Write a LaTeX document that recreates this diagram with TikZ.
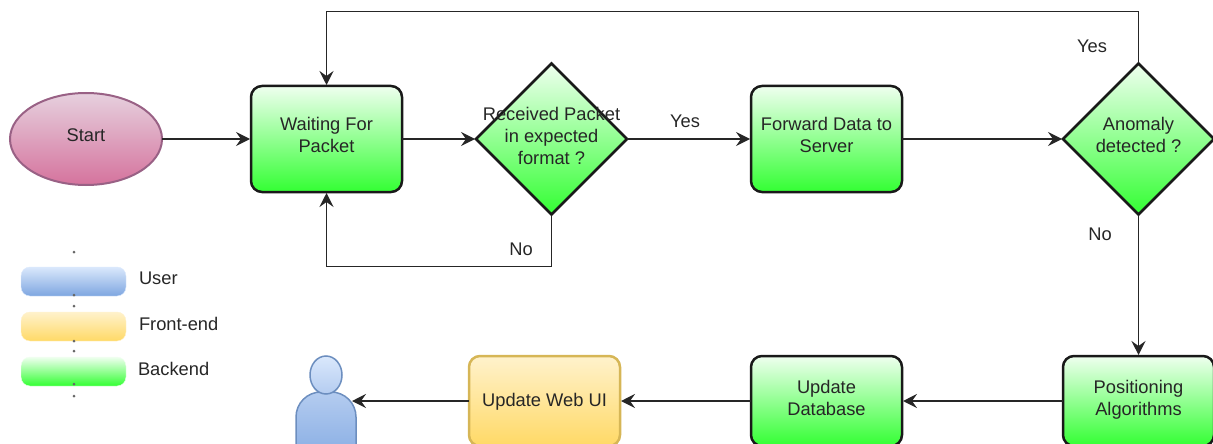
\documentclass[tikz,border=0pt]{standalone}
\usepackage{fontspec}
\setmainfont{Liberation Sans}
\usepackage{tikz}
\usetikzlibrary {arrows.meta,positioning,shapes.geometric}
\definecolor{usertop}{HTML}{DAE8FC}
\definecolor{userbot}{HTML}{7EA6E0}
\definecolor{userline}{HTML}{6C8EBF}
\definecolor{usermid}{HTML}{B4CCF0}
\definecolor{fronttop}{HTML}{FFF2CC}
\definecolor{frontbot}{HTML}{FFD966}
\definecolor{frontline}{HTML}{D6B656}
\definecolor{backtop}{HTML}{EFFFEF}
\definecolor{backbot}{HTML}{33FF33}
\definecolor{starttop}{HTML}{E6D0DE}
\definecolor{startbot}{HTML}{D5739D}
\definecolor{startline}{HTML}{996185}

\begin{document}
\begin{tikzpicture}[x=1pt,y=-1pt,
    every node/.style={font=\fontsize{18.3}{22}\selectfont,text=black!85,outer sep=0pt},
    backend/.style={rectangle,rounded corners=11pt,minimum width=151pt,line width=2.5pt,draw=black!90,top color=backtop,bottom color=backbot},
    decision/.style={diamond,inner sep=0pt,minimum size=151pt,line width=2.5pt,draw=black!90,top color=backtop,bottom color=backbot},
    swatch/.style={rectangle,rounded corners=9pt,minimum width=105pt,minimum height=29pt,inner sep=0pt},
    speck/.style={circle,inner sep=0pt,minimum size=3pt,fill=black!60},
    flow/.style={line width=1.5pt,black!85,shorten >=1pt,-{Stealth[length=14pt,width=14pt,inset=5pt]}},
   ]

    \path[use as bounding box,clip] (0,0) rectangle (1213,444);

    \node (start) [ellipse,minimum width=152pt,minimum height=92pt,inner sep=0pt,line width=2pt,draw=startline,top color=starttop,bottom color=startbot,label={[name=start_txt,yshift=4pt]center:Start}] at (86,139) {};
    \node (wait)  [backend,minimum height=106pt,right=89pt of start,label={[name=wait_txt,align=center,yshift=4pt]center:Waiting For\\Packet}]  {};
    \node (recv)  [decision,right=74pt of wait,label={[name=recv_txt,align=center,yshift=3pt]center:Received Packet\\in expected\\format ?}]  {};
    \node (fwd)   [backend,minimum height=106pt,right=124pt of recv,label={[name=fwd_txt,align=center,yshift=4pt]center:Forward Data to\\Server}]  {};
    \node (anom)  [decision,right=161pt of fwd,label={[name=anom_txt,align=center,yshift=4pt]center:Anomaly\\detected ?}]  {};

    \node (posalg) [backend,minimum height=90pt,label={[name=posalg_txt,align=center,yshift=1pt]center:Positioning\\Algorithms}] at (1138.5,401) {};
    \node (updb)   [backend,minimum height=90pt,left=161pt of posalg,label={[name=updb_txt,align=center,yshift=3pt]center:Update\\Database}] {};
    \node (webui)  [backend,minimum height=90pt,left=131pt of updb,draw=frontline,top color=fronttop,bottom color=frontbot,label={[name=webui_txt,yshift=-1pt]center:Update Web UI}] {};

    \node (body) [rectangle,rounded corners=25pt,minimum width=60pt,minimum height=80pt,line width=1.5pt,draw=userline,top color=usermid,bottom color=userbot] at (326,432) {};
    \node (head) [ellipse,minimum width=32pt,minimum height=38pt,inner sep=0pt,line width=1.5pt,draw=userline,top color=usertop,bottom color=usermid,above=-2pt of body] {};
    \coordinate (body_in) at (351,401);

    \node (yes_a) at (685,121) { Yes };
    \node (no_a)  at (521,249) { No };
    \node (yes_b) at (1092,46) { Yes };
    \node (no_b)  at (1100,234) { No };

    \node (key_user)  [swatch,draw=usertop,top color=usertop,bottom color=userbot] at (73.5,281.5) {};
    \node (key_front) [swatch,draw=fronttop,top color=fronttop,bottom color=frontbot,below=16pt of key_user] {};
    \node (key_back)  [swatch,draw=backtop,top color=backtop,bottom color=backbot,below=16pt of key_front] {};
    \node (txt_user)  [anchor=west,inner sep=0pt] at (139,278) { User };
    \node (txt_front) [anchor=west,inner sep=0pt] at (139,324) { Front-end };
    \node (txt_back)  [anchor=west,inner sep=0pt] at (138,369) { Backend };

    \foreach \y in {252,295,306,341,351,384,396}
        \node (speck\y) [speck] at (74,\y) {};

    \draw[flow] (start) -- (wait);
    \draw[flow] (wait) -- (recv);
    \draw[flow] (recv) -- (fwd);
    \draw[flow] (fwd) -- (anom);
    \draw[flow] (recv.south) -- ++(0,52) -| (wait.south);
    \draw[flow] (anom.north) -- ++(0,-52) -| (wait.north);
    \draw[flow] (anom.south) -- (posalg.north);
    \draw[flow] (posalg) -- (updb);
    \draw[flow] (updb) -- (webui);
    \draw[flow] (webui) -- (body_in);
   \end{tikzpicture}
\end{document}
